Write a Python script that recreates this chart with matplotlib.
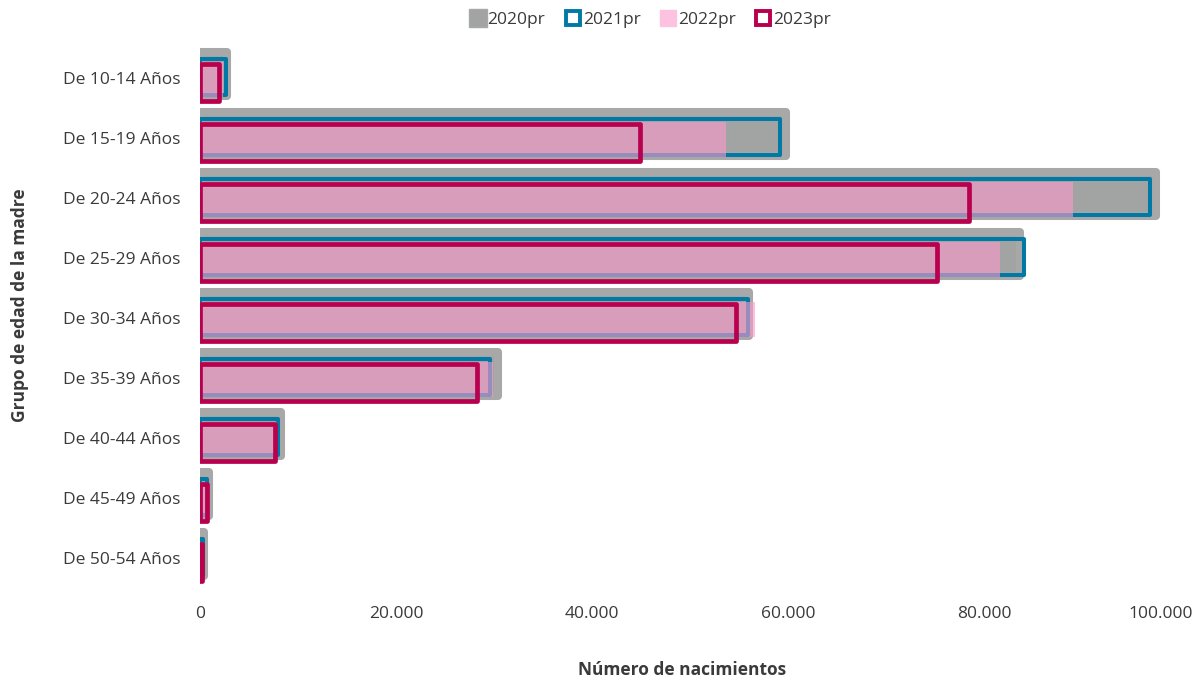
import matplotlib.pyplot as plt
from matplotlib.lines import Line2D
from matplotlib.transforms import ScaledTranslation
import numpy as np

plt.rcParams['font.family'] = ['Open Sans', 'DejaVu Sans']

categories = ["De 10-14 Años", "De 15-19 Años", "De 20-24 Años", "De 25-29 Años",
              "De 30-34 Años", "De 35-39 Años", "De 40-44 Años", "De 45-49 Años",
              "De 50-54 Años"]
series = ["2020pr", "2021pr", "2022pr", "2023pr"]
v2020 = [2800, 59800, 97600, 83700, 56000, 30400, 8300, 900, 400]
v2021 = [2700, 59200, 96900, 84100, 55900, 29600, 8000, 750, 300]
v2022 = [2300, 53700, 89100, 81600, 56600, 29900, 7900, 700, 250]
v2023 = [1950, 44900, 78500, 75200, 54700, 28300, 7650, 750, 250]
xticks = [0, 20000, 40000, 60000, 80000, 100000]

gray_fill = "#a2a4a4"
gray_edge = "#a8a8a8"
blue = "#0079a6"
pink = "#fd99cb"
magenta = "#b8004e"
text_col = "#3a3a3a"
fs = 12.5

fig = plt.figure(figsize=(11.96, 6.80), dpi=100)
ax = fig.add_axes([200 / 1196, (680 - 594) / 680, 980 / 1196, (594 - 45) / 680])

y = np.arange(len(categories))

b0 = ax.barh(y - 0.067, v2020, height=0.73, color=gray_fill,
             edgecolor=gray_edge, linewidth=5.8)
b1 = ax.barh(y - 0.017, v2021, height=0.60, color="none",
             edgecolor=blue, linewidth=2.9)
b2 = ax.barh(y + 0.025, v2022, height=0.58, color=pink, alpha=0.6,
             linewidth=0)
b3 = ax.barh(y + 0.075, v2023, height=0.62, color="none",
             edgecolor=magenta, linewidth=3.4)
for bars in (b0, b1, b3):
    for p in bars:
        p.set_joinstyle("round")

ax.set_xlim(0, 100000)
ax.set_ylim(8.6, -0.55)
ax.set_yticks(y)
ax.set_yticklabels(categories, fontsize=fs, color=text_col)
ax.set_xticks(xticks)
labels = ax.set_xticklabels([f"{v:,}".replace(",", ".") for v in xticks],
                            fontsize=fs, color=text_col)
ax.tick_params(axis="y", length=0, pad=14)
ax.tick_params(axis="x", length=0, pad=9)
for s in ax.spines.values():
    s.set_visible(False)

# keep the last tick label inside the figure, like the original
last = labels[-1]
last.set_horizontalalignment("right")
last.set_transform(last.get_transform() + ScaledTranslation(13 / 100, 0, fig.dpi_scale_trans))

fig.text(682 / 1196, 1 - 670 / 680, "Número de nacimientos", ha="center",
         va="center", fontsize=fs, fontweight="bold", color=text_col)
fig.text(20 / 1196, 1 - 305 / 680, "Grupo de edad de la madre", ha="center",
         va="center", rotation=90, fontsize=fs, fontweight="bold",
         color=text_col)

handles = [
    Line2D([], [], marker="s", linestyle="none", markersize=13,
           markerfacecolor=gray_fill, markeredgecolor=gray_edge),
    Line2D([], [], marker="s", linestyle="none", markersize=10.5,
           markerfacecolor="white", markeredgecolor=blue, markeredgewidth=2.8),
    Line2D([], [], marker="s", linestyle="none", markersize=12,
           markerfacecolor="#fdc2df", markeredgecolor="#fdc2df"),
    Line2D([], [], marker="s", linestyle="none", markersize=10.5,
           markerfacecolor="white", markeredgecolor=magenta, markeredgewidth=2.8),
]
leg = fig.legend(handles, series, loc="center", ncol=4,
                 bbox_to_anchor=(650 / 1196, 1 - 20 / 680), frameon=False,
                 fontsize=fs, handletextpad=0.05, columnspacing=1.1,
                 handlelength=1.0)
for t in leg.get_texts():
    t.set_color(text_col)

fig.savefig("out.png", dpi=100)
